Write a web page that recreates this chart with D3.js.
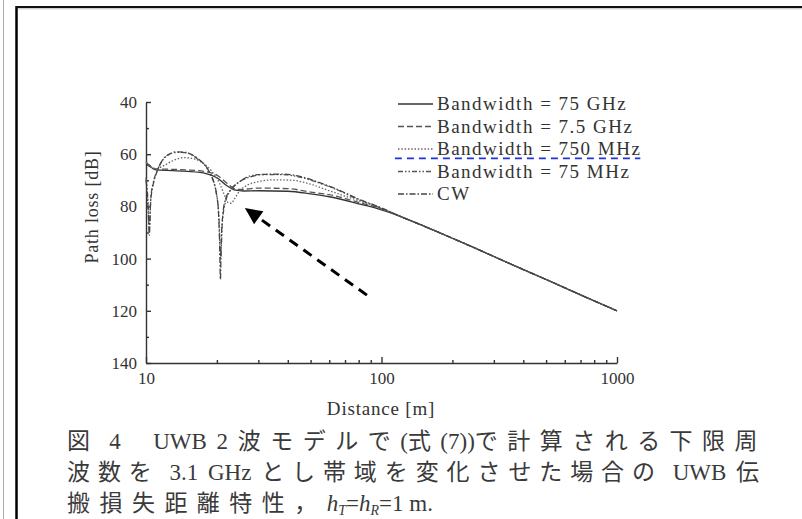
<!DOCTYPE html>
<html>
<head>
<meta charset="utf-8">
<script src="https://cdn.jsdelivr.net/npm/d3@7"></script>
<style>
  body { margin: 0; background: #fff; }
  svg { display: block; }
  .axis path, .axis line { stroke: #333; stroke-width: 1.4; }
  .axis text { font-family: "Liberation Serif", serif; font-size: 17px; fill: #333; }
</style>
</head>
<body>
<div class="chart"></div>
<script>
// Data: [distance (m), path loss (dB)]

const bw75G = [[10, 63.8], [10.5, 65], [11, 66], [13, 66.3], [15, 66.6], [18, 67.4], [20, 69],
  [22, 72], [24, 73.8], [26, 74.1], [30, 74], [40, 74.2], [50, 75.2], [60, 76.3], [80, 79], [100, 81.3]];

const bw7G5 = [[10, 63.2], [10.5, 64.6], [11, 65.6], [13, 65.8], [15, 66], [18, 66.7], [20, 68],
  [22, 71], [23.5, 73], [25, 73.5], [30, 73], [40, 73.2], [50, 74.5], [60, 75.5], [80, 78.5], [100, 81]];

const bw750M = [[10, 63], [10.5, 64.8], [11, 65.6], [12, 64.2], [13, 62.5], [14.5, 61.3], [16, 61.8],
  [17.5, 63.5], [19, 66.5], [20.5, 71], [21.5, 75.5], [22.3, 78.5], [23, 78.8], [23.8, 77],
  [25, 74], [27, 71.8], [30, 70.5], [35, 69.8], [42, 70], [50, 71.5], [60, 74], [80, 77.8], [100, 80.8]];

const bw75M = [[10, 69], [10.15, 75], [10.33, 88], [10.5, 76], [10.7, 71.5], [11.2, 66],
  [12.5, 60.2], [13.6, 59.3], [14.6, 59.4], [16.5, 61.7], [18.5, 66.7], [19.9, 75], [20.4, 84],
  [20.75, 100], [21.1, 86], [21.8, 78], [22.8, 74], [25, 70.5], [30, 67.8], [38, 67.8],
  [45, 68.8], [55, 71.2], [65, 73.7], [80, 77.4], [100, 80.7]];

const cw = [[10, 70], [10.1, 74], [10.2, 80], [10.33, 91], [10.45, 79], [10.6, 74], [10.8, 70.5],
  [11.2, 66], [11.7, 62.5], [12.5, 60], [13.5, 59.1], [14.5, 59.2], [15.5, 60], [16.5, 61.5],
  [17.5, 63.5], [18.5, 66.5], [19.3, 70], [19.9, 75], [20.3, 82], [20.55, 95], [20.7, 108],
  [20.85, 95], [21.2, 83], [21.8, 77], [22.5, 74.5], [23.5, 72.5], [25, 70.5], [27.5, 68.8],
  [32, 67.7], [38, 67.6], [45, 68.5], [55, 71], [65, 73.5], [80, 77.2], [100, 80.6]];

// all curves share the same far-field line
const farTail = [[120, 83.8], [150, 87.4], [200, 92.2], [250, 96], [300, 99.2], [400, 104.2],
  [500, 108], [700, 113.9], [1000, 120]];

const legendLabels = ["Bandwidth = 75 GHz", "Bandwidth = 7.5 GHz", "Bandwidth = 750 MHz",
  "Bandwidth = 75 MHz", "CW"];

const yTicks = [40, 60, 80, 100, 120, 140];
const yMinor = [50, 70, 90, 110, 130];
const xTicks = [10, 100, 1000];
const xMinor = [20, 30, 40, 50, 60, 70, 80, 90, 200, 300, 400, 500, 600, 700, 800, 900];

const captionLines = [
  "図 4　UWB 2 波モデルで(式(7))で計算される下限周",
  "波数を 3.1 GHz とし帯域を変化させた場合の UWB 伝"
];

// Measurements

const width = 802;
const height = 519;

const svg = d3
  .select(".chart")
  .append("svg")
  .attr("width", width)
  .attr("height", height);

// Page frame

svg.append("line").attr("x1", 3.5).attr("x2", 3.5).attr("y1", 0).attr("y2", height)
  .attr("stroke", "#aaa").attr("stroke-width", 1);
svg.append("line").attr("x1", 16.5).attr("x2", 16.5).attr("y1", 6).attr("y2", height)
  .attr("stroke", "#000").attr("stroke-width", 2.5);
svg.append("line").attr("x1", 16).attr("x2", width).attr("y1", 7).attr("y2", 7)
  .attr("stroke", "#111").attr("stroke-width", 2);
svg.append("line").attr("x1", 18).attr("x2", width).attr("y1", 8.8).attr("y2", 8.8)
  .attr("stroke", "#bbb").attr("stroke-width", 1);

// Scales

const xScale = d3.scaleLog().domain([10, 1000]).range([146, 617]);
const yScale = d3.scaleLinear().domain([40, 140]).range([102, 363]);

// Axes

svg.append("g")
  .attr("class", "axis")
  .attr("transform", `translate(${xScale(10)}, 0)`)
  .call(d3.axisLeft(yScale).tickValues(yTicks).tickSize(-5).tickSizeOuter(0).tickPadding(9));

svg.append("g")
  .attr("class", "axis")
  .attr("transform", `translate(${xScale(10)}, 0)`)
  .call(d3.axisLeft(yScale).tickValues(yMinor).tickSize(-3).tickSizeOuter(0).tickFormat(""))
  .select(".domain").remove();

svg.append("g")
  .attr("class", "axis")
  .attr("transform", `translate(0, ${yScale(140)})`)
  .call(d3.axisBottom(xScale).tickValues(xTicks).tickSize(-6).tickSizeOuter(0)
    .tickPadding(9).tickFormat(d3.format("d")));

svg.append("g")
  .attr("class", "axis")
  .attr("transform", `translate(0, ${yScale(140)})`)
  .call(d3.axisBottom(xScale).tickValues(xMinor).tickSize(-3).tickSizeOuter(0).tickFormat(""))
  .select(".domain").remove();

// Axis titles

svg.append("text")
  .attr("x", 381).attr("y", 415)
  .attr("text-anchor", "middle")
  .attr("font-family", "Liberation Serif, serif")
  .attr("font-size", 19)
  .attr("letter-spacing", 0.8)
  .attr("fill", "#333")
  .text("Distance [m]");

svg.append("text")
  .attr("transform", "translate(98, 207) rotate(-90)")
  .attr("text-anchor", "middle")
  .attr("font-family", "Liberation Serif, serif")
  .attr("font-size", 18)
  .attr("letter-spacing", 0.8)
  .attr("fill", "#333")
  .text("Path loss [dB]");

// Curves

const series = [
  { data: bw75G, dash: null, color: "#333" },
  { data: bw7G5, dash: "6,3", color: "#555" },
  { data: bw750M, dash: "1.5,1.8", color: "#666" },
  { data: bw75M, dash: "5,2,1.5,2,1.5,2", color: "#555" },
  { data: cw, dash: "6,2,1.5,2", color: "#444" },
];

const line = d3.line()
  .x((d) => xScale(d[0]))
  .y((d) => yScale(d[1]))
  .curve(d3.curveMonotoneX);

svg.append("g")
  .selectAll("path")
  .data(series)
  .enter()
  .append("path")
  .attr("d", (s) => line(s.data.concat(farTail)))
  .attr("fill", "none")
  .attr("stroke", (s) => s.color)
  .attr("stroke-width", 1.3)
  .attr("stroke-dasharray", (s) => s.dash);

// Legend

const legend = svg.append("g").attr("class", "legend");
const legendY = (i) => 104 + i * 22.5;

legend.selectAll("line")
  .data(series)
  .enter()
  .append("line")
  .attr("x1", 398).attr("x2", 433)
  .attr("y1", (d, i) => legendY(i)).attr("y2", (d, i) => legendY(i))
  .attr("stroke", (d) => d.color)
  .attr("stroke-width", 1.3)
  .attr("stroke-dasharray", (d) => d.dash);

legend.selectAll("text")
  .data(legendLabels)
  .enter()
  .append("text")
  .attr("x", 437)
  .attr("y", (d, i) => legendY(i))
  .attr("dy", "0.33em")
  .attr("font-family", "Liberation Serif, serif")
  .attr("font-size", 19)
  .attr("letter-spacing", 1.5)
  .attr("fill", "#333")
  .text((d) => d);

// Blue dashed marker line through the legend

svg.append("line")
  .attr("x1", xScale(114)).attr("x2", xScale(1256))
  .attr("y1", yScale(61.6)).attr("y2", yScale(61.6))
  .attr("stroke", "#1f35d6")
  .attr("stroke-width", 1.6)
  .attr("stroke-dasharray", "7,5");

// Dashed arrow pointing at the dip

const tip = [xScale(26.3), yScale(80.6)];
const tail = [xScale(86.7), yScale(114)];
const ang = Math.atan2(tip[1] - tail[1], tip[0] - tail[0]);
const headLen = 17;
const neck = [tip[0] - headLen * Math.cos(ang), tip[1] - headLen * Math.sin(ang)];

svg.append("line")
  .attr("x1", tail[0]).attr("y1", tail[1])
  .attr("x2", neck[0]).attr("y2", neck[1])
  .attr("stroke", "#000")
  .attr("stroke-width", 3)
  .attr("stroke-dasharray", "10,7");

svg.append("path")
  .attr("d", d3.line()([
    tip,
    [neck[0] + 8 * Math.sin(ang), neck[1] - 8 * Math.cos(ang)],
    [neck[0] - 8 * Math.sin(ang), neck[1] + 8 * Math.cos(ang)],
  ]) + "Z")
  .attr("fill", "#000");

// Caption: Japanese runs get extra tracking so each line fills the column

const caption = svg.append("g")
  .attr("font-family", "Liberation Serif, Noto Sans CJK JP, serif")
  .attr("font-size", 23)
  .attr("fill", "#3a3a3a");

const cjkRun = /[\u3000-\u9fff\uff00-\uffef]+|[^\u3000-\u9fff\uff00-\uffef]+/g;
const isCjk = (s) => /[\u3000-\u9fff\uff00-\uffef]/.test(s);
let tracking = 0;

captionLines.forEach((str, i) => {
  const t = caption.append("text")
    .attr("x", 67)
    .attr("y", 441 + i * 31)
    .attr("dy", "0.35em");
  const runs = str.match(cjkRun);
  runs.forEach((r) => t.append("tspan")
    .attr("class", isCjk(r) ? "cjk" : "lat")
    .attr("word-spacing", isCjk(r) ? null : 4)
    .text(r));
  const natural = t.node().getComputedTextLength();
  const n = runs.filter(isCjk).join("").length;
  const ls = (700 - natural) / n;
  if (i === 0) tracking = ls;
  t.selectAll("tspan.cjk").attr("letter-spacing", ls);
});

const last = caption.append("text")
  .attr("x", 67)
  .attr("y", 503)
  .attr("dy", "0.35em");
last.append("tspan").attr("letter-spacing", tracking).text("搬損失距離特性，");
last.append("tspan").attr("font-style", "italic").text("h");
last.append("tspan").attr("font-size", 14).attr("font-style", "italic").attr("dy", 4).text("T");
last.append("tspan").attr("dy", -4).text("=");
last.append("tspan").attr("font-style", "italic").text("h");
last.append("tspan").attr("font-size", 14).attr("font-style", "italic").attr("dy", 4).text("R");
last.append("tspan").attr("dy", -4).text("=1 m.");
</script>
</body>
</html>
